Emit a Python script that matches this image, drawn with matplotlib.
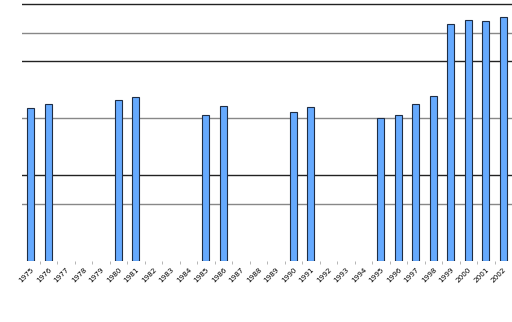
import numpy as np
import matplotlib
matplotlib.use('Agg')
import matplotlib.pyplot as plt

# categories (years) and bar heights
years = [str(y) for y in range(1975, 2003)]
bar_years = ['1975', '1976', '1980', '1981', '1985', '1986', '1990', '1991',
             '1995', '1996', '1997', '1998', '1999', '2000', '2001', '2002']
bar_values = [5.37, 5.51, 5.65, 5.76, 5.13, 5.44, 5.23, 5.41,
              5.02, 5.13, 5.51, 5.79, 8.30, 8.44, 8.41, 8.55]

dark_lines = [9, 7, 3]
gray_lines = [8, 5, 2]

fig = plt.figure(figsize=(5.12, 3.22), dpi=100)
ax = fig.add_axes([22 / 512, 61 / 322, 490 / 512, 258 / 322])

x = np.array([years.index(y) for y in bar_years])
ax.bar(x, bar_values, width=0.42, color='#66aaff', edgecolor='#1f2d44',
       linewidth=0.8, zorder=3)

for v in dark_lines:
    ax.axhline(v, color='#222222', linewidth=1.0, zorder=1)
for v in gray_lines:
    ax.axhline(v, color='#888888', linewidth=1.0, zorder=1)

ax.set_xlim(-0.5, len(years) - 0.5)
ax.set_ylim(0, 9.05)
ax.set_yticks([])
ax.set_xticks(range(len(years)))
ax.set_xticklabels(years, rotation=45, ha='right', va='top',
                   rotation_mode='anchor', fontsize=5.2)
ax.tick_params(axis='x', which='major', length=0, pad=4)
ax.set_xticks(np.arange(0.5, len(years) - 0.5), minor=True)
ax.tick_params(axis='x', which='minor', length=2, color='#aaaaaa')
for s in ax.spines.values():
    s.set_visible(False)

fig.savefig('out.png', dpi=100)
